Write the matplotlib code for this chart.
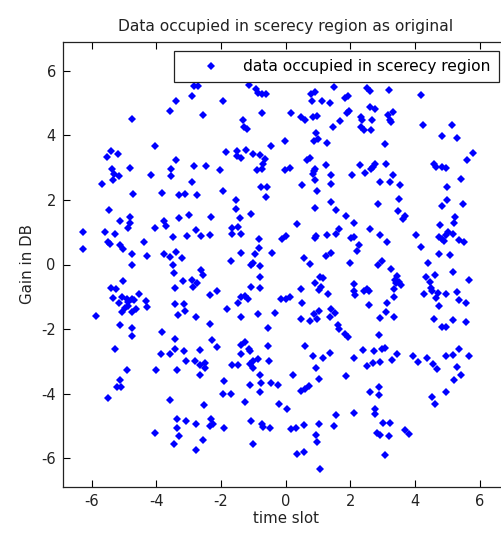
import numpy as np
import matplotlib
matplotlib.use("Agg")
import matplotlib.pyplot as plt

# values, (time slot, gain in dB), grouped by region
upper_left = np.array([
    (-4.74, 4.51), (-2.91, 5.21), (-3.40, 5.05), (-3.58, 4.74), (-4.05, 3.66), (-5.39, 3.51),
    (-5.54, 3.33), (-5.20, 3.41), (-5.36, 2.95), (-5.31, 2.81), (-5.33, 2.63), (-5.15, 2.74),
    (-4.82, 3.00), (-5.67, 2.48), (-4.18, 2.78), (-3.55, 2.95), (-3.55, 2.74), (-3.38, 3.25),
    (-2.84, 3.04), (-2.91, 2.57), (-4.72, 2.19), (-3.84, 2.22), (-3.30, 2.14), (-3.12, 2.17),
])
upper_mid = np.array([
    (-2.84, 5.52), (-2.70, 5.52), (-1.94, 5.06), (-2.57, 4.62), (-1.13, 5.55), (-0.91, 5.42),
    (-0.85, 5.32), (-0.72, 5.29), (-0.60, 5.29), (-0.72, 4.69), (-1.32, 4.48), (-1.30, 4.26),
    (-1.19, 4.21), (0.18, 4.69), (0.48, 4.57), (0.61, 4.46), (0.84, 4.57), (0.98, 4.60),
    (0.79, 5.29), (0.92, 5.34), (1.49, 5.49), (0.82, 5.06), (1.12, 5.06), (1.36, 5.01),
    (1.67, 4.44), (1.48, 4.25), (0.95, 4.08), (0.87, 3.84), (1.00, 3.90), (1.28, 3.76),
    (-0.03, 3.81), (-0.46, 3.66), (-1.85, 3.48), (-1.52, 3.51), (-1.50, 3.35), (-1.37, 3.30),
    (-1.22, 3.56), (-1.01, 3.43), (-0.80, 3.38), (-0.65, 3.26), (-0.70, 3.12), (-0.88, 2.94),
    (-0.72, 2.96), (-2.45, 3.04), (-2.02, 2.94), (-1.94, 2.28), (-2.75, 2.14), (-1.54, 1.99),
    (-0.77, 2.40), (-0.58, 2.40), (-0.62, 2.09), (-0.03, 2.94), (0.12, 2.98), (0.67, 3.25),
    (0.74, 3.30), (0.87, 2.90), (0.92, 2.95), (0.84, 2.81), (1.26, 3.07), (1.41, 2.78),
    (1.41, 2.48), (0.90, 2.63), (0.51, 2.45), (0.98, 2.28), (1.39, 1.94),
])
upper_right = np.array([
    (1.85, 5.16), (1.92, 5.22), (2.51, 5.47), (2.60, 5.36), (3.21, 5.41), (4.19, 5.24),
    (1.89, 4.70), (1.96, 4.74), (2.62, 4.88), (2.75, 4.83), (2.34, 4.57), (2.37, 4.46),
    (2.68, 4.48), (3.16, 4.62), (3.32, 4.72), (3.23, 4.48), (3.26, 4.41), (2.34, 4.26),
    (2.41, 4.15), (2.65, 4.18), (4.24, 4.31), (5.15, 4.31), (4.84, 3.97), (5.30, 3.92),
    (3.06, 3.72), (5.81, 3.46), (5.60, 3.25), (2.29, 3.07), (2.75, 3.12), (2.65, 2.97),
    (2.70, 3.02), (2.47, 2.83), (2.05, 2.78), (3.11, 3.12), (3.32, 2.78), (4.58, 3.12),
    (4.65, 3.02), (4.84, 3.02), (4.96, 2.99), (5.43, 2.64), (2.93, 2.55), (3.23, 2.57),
    (3.55, 2.47), (4.98, 2.40), (3.52, 2.04), (2.85, 1.88), (4.98, 1.99), (4.84, 1.81),
    (5.50, 1.86),
])
mid_left = np.array([
    (-5.46, 1.68), (-6.26, 1.01), (-6.26, 0.49), (-5.59, 1.01), (-5.28, 0.95), (-5.13, 1.34),
    (-4.82, 1.47), (-4.82, 1.30), (-4.87, 1.13), (-5.49, 0.70), (-5.44, 0.62), (-5.13, 0.59),
    (-5.03, 0.49), (-4.74, 0.31), (-4.74, -0.01), (-4.38, 0.70), (-4.30, 0.25), (-4.05, 1.14),
    (-3.77, 1.35), (-3.71, 1.18), (-3.50, 0.85), (-3.30, 1.44), (-3.00, 1.53), (-3.05, 0.88),
    (-3.77, 0.34), (-3.58, 0.23), (-3.40, 0.39), (-3.22, 0.20), (-3.48, -0.01), (-3.46, -0.26),
    (-3.17, -0.52), (-2.91, -0.49), (-2.88, -0.70), (-3.43, -0.73), (-5.03, -0.52), (-5.42, -0.73),
    (-5.26, -0.77), (-5.33, -1.04), (-5.15, -1.18), (-5.08, -1.01), (-4.92, -1.06), (-4.87, -1.16),
    (-4.77, -1.06), (-4.69, -1.11), (-4.53, -0.90), (-5.08, -1.47), (-4.97, -1.35), (-4.87, -1.27),
    (-4.77, -1.47), (-4.62, -1.37), (-4.33, -1.14), (-4.28, -1.33), (-5.87, -1.59), (-5.13, -1.88),
    (-4.77, -1.97), (-4.74, -2.22), (-5.27, -2.61), (-3.84, -2.09), (-3.43, -1.21), (-3.15, -1.21),
    (-3.33, -1.55), (-3.12, -1.45), (-3.43, -2.30), (-3.43, -2.63), (-3.58, -2.76), (-3.87, -2.78),
    (-3.15, -2.69), (-3.07, -3.00),
])
centre = np.array([
    (-1.54, 1.73), (-2.30, 1.47), (-1.42, 1.44), (-1.08, 1.55), (-2.78, 1.06), (-2.61, 0.88),
    (-2.35, 0.92), (-1.65, 1.13), (-1.47, 1.16), (-1.65, 0.95), (-1.37, 0.95), (-0.83, 0.80),
    (-0.82, 0.51), (-0.96, 0.34), (-1.37, 0.37), (-1.68, 0.11), (-1.06, -0.03), (-1.01, 0.05),
    (-0.78, -0.05), (-0.41, 0.37), (0.36, 1.24), (-0.10, 0.80), (0.02, 0.88), (0.90, 1.76),
    (0.90, 0.82), (0.95, 0.87), (1.28, 0.92), (1.57, 1.68), (1.57, 0.96), (1.65, 1.09),
    (1.39, 0.37), (1.24, 0.26), (0.56, 0.20), (0.76, 0.01), (-2.61, -0.18), (-2.56, -0.34),
    (-2.74, -0.56), (-0.78, -0.39), (-1.06, -0.70), (-0.80, -0.73), (-2.35, -0.93), (-2.14, -0.83),
    (-1.37, -1.01), (-1.16, -1.06), (-1.27, -0.98), (-1.47, -1.18), (-1.81, -1.39), (-1.39, -1.63),
    (-0.87, -1.54), (-0.32, -1.50), (-0.13, -1.08), (0.02, -1.06), (0.12, -1.01), (0.48, -0.77),
    (0.51, -1.18), (0.48, -1.68), (0.76, -1.75), (0.97, -1.70), (0.87, -1.54), (1.03, -1.45),
    (0.90, -0.57), (1.05, -0.39), (1.15, -0.42), (1.03, -0.80), (1.10, -0.70), (1.31, -0.90),
    (1.36, -1.63), (1.41, -1.37), (1.53, -1.49), (1.62, -1.88), (1.65, -2.01), (-2.79, -1.63),
    (-2.35, -1.83), (-0.55, -1.96), (-2.27, -2.33), (-2.14, -2.55), (-2.66, -2.64), (-1.39, -2.48),
    (-1.27, -2.40), (-1.37, -2.76), (-1.13, -2.61), (-1.09, -2.68), (-0.55, -2.51), (-0.87, -2.94),
    (-0.53, -2.99), (0.59, -2.51), (0.84, -2.83), (1.15, -2.91), (1.36, -2.73), (-2.81, -3.00),
    (-2.64, -3.12), (-2.50, -3.05), (-1.65, -3.10), (-1.47, -3.10), (-1.11, -3.07), (-1.01, -3.00),
])
mid_right = np.array([
    (3.47, 1.65), (3.62, 1.42), (3.70, 1.49), (1.87, 1.50), (2.13, 1.30), (2.60, 1.09),
    (2.03, 0.82), (2.13, 0.85), (2.27, 0.59), (2.20, 0.41), (2.93, 0.92), (3.14, 0.70),
    (4.04, 0.92), (4.19, 0.54), (4.78, 1.21), (5.25, 1.47), (5.22, 1.30), (4.76, 0.85),
    (4.84, 0.78), (4.96, 0.90), (5.01, 1.01), (5.17, 0.95), (4.91, 0.72), (5.38, 0.75),
    (5.53, 0.70), (4.74, 0.34), (5.09, 0.28), (4.40, 0.06), (2.00, 0.06), (2.85, -0.03),
    (2.99, 0.11), (3.26, -0.13), (3.44, -0.36), (3.37, -0.49), (3.50, -0.54), (3.57, -0.62),
    (3.42, -0.57), (3.35, -0.77), (3.34, -1.01), (2.13, -0.59), (2.13, -0.83), (2.16, -0.95),
    (2.41, -0.83), (2.51, -0.77), (2.57, -0.83), (2.57, -1.24), (3.13, -1.18), (3.11, -1.47),
    (2.92, -1.66), (3.35, -1.63), (4.33, -0.39), (4.63, -0.34), (4.47, -0.54), (4.50, -0.73),
    (4.53, -0.83), (4.29, -0.90), (4.71, -0.87), (4.66, -1.04), (4.96, -0.90), (5.17, -0.23),
    (5.68, -0.49), (5.29, -0.85), (5.35, -1.11), (5.58, -1.18), (4.74, -1.29), (4.58, -1.68),
    (5.17, -1.73), (5.58, -1.78), (4.84, -1.93), (4.96, -1.93), (1.85, -2.14), (1.93, -2.24),
    (2.88, -2.17), (2.39, -2.64), (2.72, -2.69), (2.99, -2.63), (3.09, -2.58), (2.13, -2.90),
    (2.51, -3.15), (2.70, -3.04), (2.93, -3.02), (3.30, -2.97), (3.44, -2.76), (3.95, -2.84),
    (4.09, -3.02), (4.38, -2.91), (4.55, -3.09), (4.96, -2.84), (5.17, -2.81), (5.38, -2.63),
    (5.68, -2.84),
])
lower_left = np.array([
    (-4.90, -3.28), (-4.02, -3.28), (-3.35, -3.28), (-5.13, -3.59), (-5.21, -3.79), (-5.10, -3.79),
    (-5.49, -4.13), (-3.58, -4.21), (-3.35, -4.77), (-3.35, -5.06), (-3.30, -5.31), (-3.09, -4.86),
    (-4.05, -5.22), (-3.46, -5.57),
])
lower_mid = np.array([
    (-2.50, -3.19), (-1.01, -3.22), (-2.66, -3.41), (-0.78, -3.41), (0.23, -3.41), (0.93, -3.20),
    (1.03, -3.56), (-1.91, -3.62), (-1.09, -3.74), (-0.75, -3.66), (-0.46, -3.66), (-0.24, -3.72),
    (0.48, -3.93), (0.61, -3.87), (0.72, -3.76), (-1.94, -4.00), (-1.68, -4.00), (-0.80, -3.95),
    (-1.27, -4.25), (-0.21, -4.31), (0.04, -4.46), (-2.53, -4.34), (1.57, -4.67), (-2.79, -4.93),
    (-2.30, -4.79), (-2.25, -4.93), (-2.33, -5.00), (-1.91, -5.06), (-1.06, -4.86), (-0.72, -4.93),
    (-0.70, -5.03), (-0.49, -5.06), (0.18, -5.10), (0.33, -5.06), (0.57, -4.96), (1.03, -4.93),
    (1.49, -5.01), (0.93, -5.27), (0.98, -5.50), (-2.57, -5.44), (-2.79, -5.75), (-1.01, -5.55),
    (0.35, -5.86), (0.57, -5.80), (1.07, -6.32),
])
lower_right = np.array([
    (1.87, -3.45), (4.67, -3.23), (5.29, -3.17), (5.43, -3.41), (5.22, -3.59), (4.96, -3.95),
    (4.53, -4.10), (4.63, -4.31), (2.60, -3.96), (2.88, -3.79), (2.88, -4.04), (2.13, -4.59),
    (2.75, -4.46), (2.75, -4.62), (3.01, -4.90), (3.24, -4.90), (2.83, -5.21), (2.92, -5.28),
    (3.19, -5.31), (3.70, -5.14), (3.83, -5.26), (3.06, -5.91),
])

regions = [upper_left, upper_mid, upper_right, mid_left, centre, mid_right,
           lower_left, lower_mid, lower_right]
data = np.concatenate(regions)
time_slot = data[:, 0]
gain_db = data[:, 1]

plt.rcParams['font.family'] = ['DejaVu Sans']
plt.rcParams['axes.unicode_minus'] = False  # plain hyphen like the original "-6"

fig = plt.figure(figsize=(5.01, 5.35), dpi=100)
# axes is square and runs past the right edge of the picture (like the original crop)
ax = fig.add_axes([62.7 / 501, 47.7 / 535, 445.9 / 501, 445.6 / 535])

ax.plot(time_slot, gain_db, linestyle='none', marker='D', markersize=4,
        markeredgewidth=0, color='#0000ff', label='data occupied in scerecy region')

ax.set_xlim(-6.9, 6.9)
ax.set_ylim(-6.9, 6.9)
ax.set_xticks(np.arange(-6, 7, 2))
ax.set_yticks(np.arange(-6, 7, 2))
ax.tick_params(direction='in', length=5, width=0.8, top=True, right=True, pad=5,
               labelsize=10.5, labelcolor='#222222')
for s in ax.spines.values():
    s.set_linewidth(0.9)
    s.set_color('#222222')

ax.set_title('Data occupied in scerecy region as original', fontsize=11.2, pad=8,
             color='#222222')
ax.set_xlabel('time slot', fontsize=10.8, labelpad=1, color='#222222')
ax.set_ylabel('Gain in DB', fontsize=10.8, labelpad=4, color='#222222')

leg = ax.legend(loc='upper right', bbox_to_anchor=(0.978, 0.979), borderaxespad=0,
                numpoints=1, handlelength=3.7, handletextpad=0.25, borderpad=0.52,
                fancybox=False, framealpha=1, edgecolor='#222222', fontsize=11.2)
leg.get_frame().set_linewidth(0.9)

fig.savefig('out.png', dpi=100)
